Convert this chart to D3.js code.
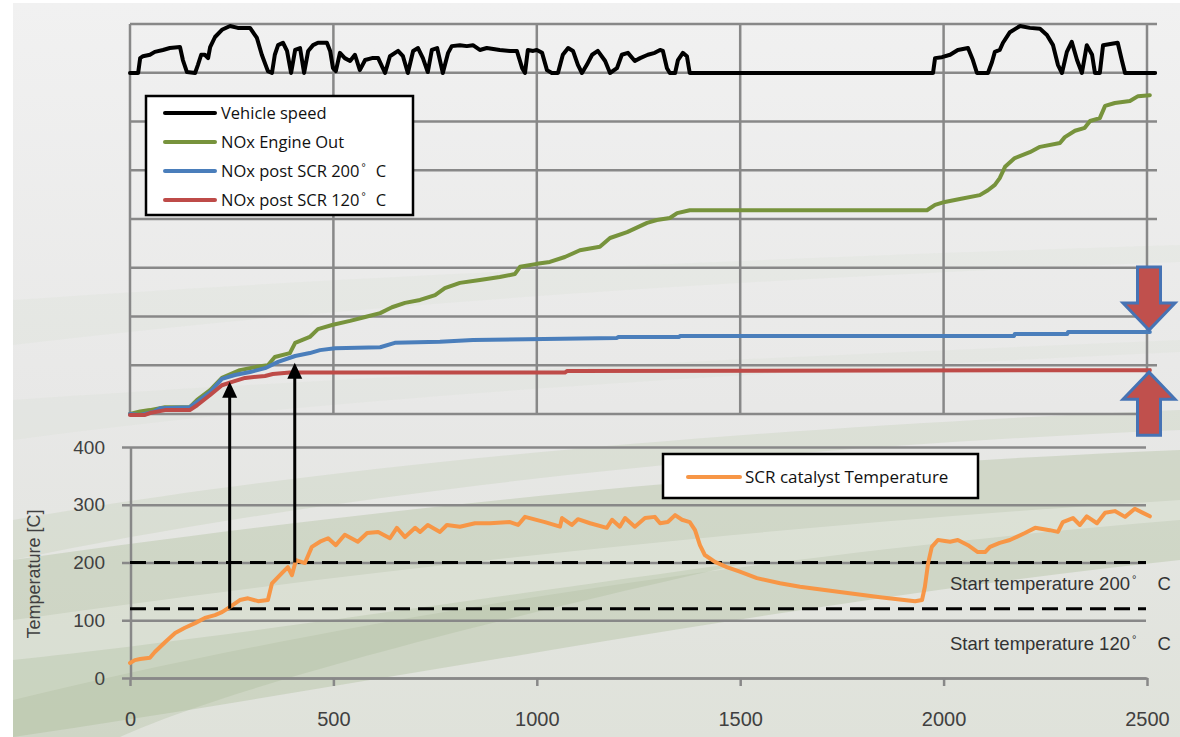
<!DOCTYPE html>
<html lang="en">
<head>
<meta charset="UTF-8">
<title>NOx post SCR and catalyst temperature</title>
<script src="https://cdn.jsdelivr.net/npm/d3@7"></script>
<style>
  body { margin: 0; background: #fff; }
  svg { display: block; }
</style>
</head>
<body>
<svg id="chart" width="1180" height="737"></svg>
<script>
// vehicle speed, [time s, km/h]
const speed = [
  [0,0],[20,0],[25,31],[32,35],[49,38],[61,44],[81,48],[98,52],[123,54],[130,27],[140,2],[160,0],
  [167,17],[175,38],[184,38],[192,31],[197,54],[209,75],[226,90],[246,98],[265,94],[283,94],[295,94],
  [312,73],[324,38],[339,4],[349,0],[356,38],[364,58],[376,63],[386,46],[396,0],[406,48],[418,52],
  [428,0],[438,46],[450,58],[462,63],[484,63],[492,46],[499,10],[506,4],[516,42],[528,31],[541,25],
  [553,38],[565,6],[578,27],[595,31],[610,31],[627,0],[639,35],[659,46],[671,35],[683,0],[696,46],
  [708,52],[720,31],[732,2],[742,48],[755,52],[769,0],[782,42],[791,56],[811,58],[828,56],[843,58],
  [860,48],[877,52],[909,48],[934,46],[951,46],[964,10],[971,0],[978,48],[991,46],[1000,48],[1013,42],
  [1025,6],[1037,0],[1052,0],[1064,38],[1077,52],[1089,46],[1101,17],[1111,0],[1123,17],[1136,38],
  [1150,46],[1168,25],[1180,0],[1197,10],[1209,38],[1224,42],[1241,25],[1254,31],[1273,38],[1290,42],
  [1303,48],[1310,46],[1320,10],[1327,0],[1340,0],[1347,27],[1359,42],[1369,35],[1376,0],[1974,0],
  [1979,31],[1996,33],[2016,38],[2035,48],[2060,52],[2072,27],[2082,0],[2109,0],[2119,23],[2126,44],
  [2138,48],[2146,63],[2163,85],[2188,98],[2212,94],[2237,92],[2254,79],[2269,58],[2281,17],[2291,0],
  [2303,44],[2315,65],[2328,27],[2340,0],[2352,58],[2365,38],[2372,0],[2384,0],[2392,58],[2428,63],
  [2438,27],[2446,0],[2520,0]
];

// cumulative NOx, [time s, grid units]
const noxEngineOut = [
  [0,0],[25,0.05],[49,0.08],[86,0.14],[147,0.14],[165,0.29],[197,0.49],[226,0.74],[270,0.9],[320,0.98],
  [339,1.0],[356,1.17],[393,1.25],[406,1.46],[442,1.58],[462,1.74],[499,1.83],[541,1.91],[578,1.99],
  [615,2.07],[644,2.19],[676,2.28],[713,2.34],[750,2.44],[774,2.58],[811,2.69],[860,2.75],[909,2.81],
  [946,2.87],[959,3.02],[1000,3.08],[1032,3.12],[1069,3.22],[1106,3.36],[1155,3.43],[1180,3.61],
  [1222,3.73],[1271,3.92],[1295,3.98],[1327,4.02],[1345,4.12],[1376,4.18],[1959,4.18],[1979,4.29],
  [2003,4.35],[2040,4.41],[2089,4.49],[2109,4.59],[2126,4.7],[2138,4.84],[2151,5.07],[2175,5.25],
  [2212,5.37],[2237,5.48],[2286,5.56],[2298,5.68],[2323,5.81],[2347,5.87],[2360,6.01],[2384,6.07],
  [2397,6.32],[2421,6.38],[2458,6.42],[2478,6.52],[2507,6.54]
];
const noxPost200 = [
  [0,0],[25,-0.02],[57,0.04],[74,0.12],[147,0.14],[165,0.25],[197,0.45],[226,0.72],[258,0.8],[295,0.86],
  [332,0.94],[364,1.07],[406,1.19],[442,1.25],[467,1.31],[504,1.35],[615,1.37],[651,1.46],[762,1.48],
  [843,1.52],[1197,1.56],[1200,1.58],[1350,1.58],[1352,1.6],[2173,1.6],[2175,1.64],[2304,1.64],
  [2306,1.68],[2507,1.68]
];
const noxPost120 = [
  [0,-0.02],[37,-0.02],[49,0.02],[86,0.08],[147,0.08],[165,0.18],[197,0.39],[226,0.59],[251,0.66],
  [283,0.74],[332,0.78],[351,0.82],[393,0.85],[1069,0.85],[1074,0.88],[2507,0.9]
];

// SCR catalyst temperature, [time s, deg C]
const scrTemp = [
  [0,26],[12,31],[25,33],[49,35],[61,45],[86,62],[111,78],[135,87],[160,95],[184,104],[209,109],
  [226,114],[246,123],[270,135],[290,138],[315,133],[339,135],[349,164],[374,182],[388,192],[398,178],
  [408,204],[430,199],[447,227],[467,236],[487,242],[506,230],[528,248],[560,236],[583,251],[610,253],
  [639,242],[656,260],[676,244],[701,260],[713,253],[732,265],[762,253],[779,265],[811,262],[848,268],
  [885,268],[934,270],[954,265],[971,279],[1020,270],[1057,262],[1062,277],[1086,265],[1101,275],
  [1131,268],[1172,260],[1185,274],[1204,262],[1217,277],[1241,262],[1266,277],[1290,279],[1303,268],
  [1322,270],[1340,282],[1357,274],[1376,270],[1389,256],[1401,230],[1413,213],[1438,201],[1467,192],
  [1499,184],[1541,173],[1598,164],[1647,158],[1745,149],[1844,140],[1930,133],[1947,135],[1954,158],
  [1962,199],[1971,227],[1986,239],[2016,236],[2035,239],[2060,230],[2084,218],[2102,218],[2114,227],
  [2138,234],[2163,239],[2200,251],[2225,260],[2261,256],[2281,253],[2293,270],[2318,277],[2335,265],
  [2352,280],[2377,268],[2397,286],[2421,289],[2446,279],[2470,293],[2490,286],[2507,280]
];

const timeTicks = [0, 500, 1000, 1500, 2000, 2500];
const tempTicks = [0, 100, 200, 300, 400];
const noxGrid = [0, 1, 2, 3, 4, 5, 6, 7, 8];
const startTemps = [200, 120];
const startNames = ["Start temperature 200", "Start temperature 120"];
const legendNames = ["Vehicle speed", "NOx Engine Out", "NOx post SCR 200", "NOx post SCR 120"];
const legendDeg = [false, false, true, true];
const tempName = "SCR catalyst Temperature";
// black arrows: time, start temperature, NOx level reached
const arrowTime = [245, 405];
const arrowTemp = [120, 200];
const arrowNox = [0.66, 1.05];

const W = 1180, H = 737;
const colors = { speed: "#000000", eo: "#77933c", p200: "#4a7ebb", p120: "#be4b48", temp: "#f79646" };
const gridColor = "#888888";

const svg = d3.select("#chart");

const x = d3.scaleLinear().domain([0, 2500]).range([130, 1147]);
const noxY = d3.scaleLinear().domain([0, 8]).range([414, 24]);
const speedY = d3.scaleLinear().domain([0, 100]).range([73, 25]);
const tempY = d3.scaleLinear().domain([0, 400]).range([678, 447]);

// background
const defs = svg.append("defs");
const bg = defs.append("linearGradient").attr("id", "bg").attr("x1", 0).attr("y1", 0).attr("x2", 0).attr("y2", 1);
bg.append("stop").attr("offset", 0).attr("stop-color", "#f1f1f1");
bg.append("stop").attr("offset", 0.55).attr("stop-color", "#e8e8e7");
bg.append("stop").attr("offset", 1).attr("stop-color", "#dfe2da");
svg.append("rect").attr("x", 13).attr("y", 3).attr("width", W - 13).attr("height", H - 3).attr("fill", "url(#bg)");

const swooshes = [
  ["M13,737 L13,560 C300,520 700,470 1180,450 L1180,560 C800,600 400,680 13,737 Z", "#a9bb95", 0.35],
  ["M13,700 L13,620 C300,580 700,530 1180,500 L1180,520 C700,560 300,630 13,700 Z", "#ffffff", 0.25],
  ["M13,520 C300,470 700,430 1180,410 L1180,430 C700,450 300,500 13,560 Z", "#b9c8a6", 0.25],
  ["M13,737 L13,660 C200,640 400,610 760,560 C400,640 200,700 120,737 Z", "#9fb38a", 0.25],
  ["M13,300 C300,280 700,260 1180,245 L1180,262 C700,280 300,310 13,345 Z", "#c9d3bd", 0.12],
  ["M13,400 C300,380 700,360 1180,340 L1180,352 C700,375 300,400 13,440 Z", "#c9d3bd", 0.12]
];
svg.append("g").selectAll("path").data(swooshes).join("path")
  .attr("d", d => d[0]).attr("fill", d => d[1]).attr("opacity", d => d[2]);

// upper panel grid
const upper = svg.append("g").attr("stroke", gridColor).attr("stroke-width", 2.5);
upper.selectAll("line.h").data(noxGrid).join("line").attr("class", "h")
  .attr("x1", x(0)).attr("x2", x(2500) + 10)
  .attr("y1", d => noxY(d)).attr("y2", d => noxY(d));
upper.selectAll("line.v").data(timeTicks).join("line").attr("class", "v")
  .attr("x1", d => x(d)).attr("x2", d => x(d))
  .attr("y1", noxY(0)).attr("y2", noxY(8));

// lower panel axes
const yAxis = d3.axisLeft(tempY).tickValues(tempTicks)
  .tickSize(-(x(2500) - 1 - 122)).tickPadding(17);
svg.append("g").attr("transform", "translate(122,0)").call(yAxis)
  .attr("font-family", "'Liberation Sans', Arial, sans-serif").attr("font-size", 19)
  .call(g => g.select(".domain").remove())
  .call(g => g.selectAll("line").attr("stroke", gridColor).attr("stroke-width", 2.5))
  .call(g => g.selectAll("text").attr("fill", "#404040"));

svg.append("line")
  .attr("x1", x(0) + 1).attr("x2", x(0) + 1)
  .attr("y1", tempY(400)).attr("y2", tempY(0))
  .attr("stroke", gridColor).attr("stroke-width", 2.5);

const xAxis = d3.axisBottom(x).tickValues(timeTicks).tickFormat(d3.format("d"))
  .tickSizeInner(8).tickSizeOuter(0).tickPadding(26);
svg.append("g").attr("transform", `translate(0,${tempY(0)})`).call(xAxis)
  .attr("font-family", "'Liberation Sans', Arial, sans-serif").attr("font-size", 20)
  .call(g => g.select(".domain").attr("stroke", gridColor).attr("stroke-width", 2.5))
  .call(g => g.selectAll("line").attr("stroke", gridColor).attr("stroke-width", 2.5))
  .call(g => g.selectAll("text").attr("fill", "#404040"));

svg.append("text")
  .attr("transform", `translate(40,${tempY(180)}) rotate(-90)`)
  .attr("text-anchor", "middle")
  .attr("font-family", "'Liberation Sans', Arial, sans-serif").attr("font-size", 18)
  .attr("fill", "#404040")
  .text("Temperature [C]");

// start temperature lines
svg.append("g").selectAll("line").data(startTemps).join("line")
  .attr("x1", x(0)).attr("x2", x(2500) - 1)
  .attr("y1", d => tempY(d)).attr("y2", d => tempY(d))
  .attr("stroke", "#000").attr("stroke-width", 3).attr("stroke-dasharray", "16 8");

function degText(sel, base, deg, size, gap) {
  sel.text(base);
  if (!deg) return;
  sel.append("tspan").attr("font-size", size * 0.6).attr("dy", -size * 0.35).attr("dx", 2).text("°");
  sel.append("tspan").attr("dy", size * 0.35).attr("dx", gap).text("C");
}

const startOffset = [27, 41];
svg.append("g").selectAll("text").data(startNames).join("text")
  .attr("x", x(2500) - 197)
  .attr("y", (d, i) => tempY(startTemps[i]) + startOffset[i])
  .attr("font-family", "'Liberation Sans', Arial, sans-serif").attr("font-size", 18.5)
  .attr("fill", "#333")
  .each(function (d) { degText(d3.select(this), d, true, 18.5, 21); });

// series
const line = ys => d3.line().x(d => x(d[0])).y(d => ys(d[1]));
const series = [
  [speed, speedY, colors.speed, 4],
  [noxEngineOut, noxY, colors.eo, 4],
  [noxPost200, noxY, colors.p200, 4],
  [noxPost120, noxY, colors.p120, 4],
  [scrTemp, tempY, colors.temp, 4]
];
svg.append("g").selectAll("path").data(series).join("path")
  .attr("d", d => line(d[1])(d[0]))
  .attr("fill", "none").attr("stroke", d => d[2]).attr("stroke-width", d => d[3])
  .attr("stroke-linejoin", "round").attr("stroke-linecap", "round");

// black arrows from start temperature to NOx curves
const arrows = svg.append("g");
arrowTime.forEach((t, i) => {
  const ax = x(t), y0 = tempY(arrowTemp[i]), y1 = noxY(arrowNox[i]);
  arrows.append("line").attr("x1", ax).attr("x2", ax).attr("y1", y0).attr("y2", y1 + 12)
    .attr("stroke", "#000").attr("stroke-width", 3);
  arrows.append("path").attr("d", `M${ax},${y1} L${ax - 7.5},${y1 + 16} L${ax + 7.5},${y1 + 16} Z`).attr("fill", "#000");
});

// block arrows at the right end
const lastBlue = noxPost200[noxPost200.length - 1][1];
const lastRed = noxPost120[noxPost120.length - 1][1];
const bx = x(2500) + 2;
function blockArrow(tipY, dir) {
  // dir = 1 pointing down, -1 pointing up
  const hh = 27, sl = 36, hw = 26, sw = 11.5;
  const b = tipY - dir * hh, e = b - dir * sl;
  const p = [[bx, tipY], [bx + hw, b], [bx + sw, b], [bx + sw, e], [bx - sw, e], [bx - sw, b], [bx - hw, b]];
  svg.append("path").attr("d", "M" + p.join("L") + "Z")
    .attr("fill", "#c0504d").attr("stroke", "#4673b4").attr("stroke-width", 3).attr("stroke-linejoin", "miter");
}
blockArrow(noxY(lastBlue) - 2, 1);
blockArrow(noxY(lastRed) + 2, -1);

// upper legend
const leg = svg.append("g");
leg.append("rect").attr("x", 146).attr("y", 96).attr("width", 267).attr("height", 119)
  .attr("fill", "#fff").attr("stroke", "#000").attr("stroke-width", 2.5);
const legColors = [colors.speed, colors.eo, colors.p200, colors.p120];
legendNames.forEach((name, i) => {
  const ly = 113 + i * 29;
  leg.append("line").attr("x1", 165).attr("x2", 215).attr("y1", ly).attr("y2", ly)
    .attr("stroke", legColors[i]).attr("stroke-width", 4).attr("stroke-linecap", "round");
  leg.append("text").attr("x", 221).attr("y", ly + 6)
    .attr("font-family", "'Open Sans', sans-serif").attr("font-size", 16.5).attr("fill", "#111")
    .call(s => degText(s, name, legendDeg[i], 16.5, 10));
});

// lower legend
const leg2 = svg.append("g");
leg2.append("rect").attr("x", 663).attr("y", 454).attr("width", 315).attr("height", 44)
  .attr("fill", "#fff").attr("stroke", "#000").attr("stroke-width", 2.5);
leg2.append("line").attr("x1", 688).attr("x2", 740).attr("y1", 477).attr("y2", 477)
  .attr("stroke", colors.temp).attr("stroke-width", 4).attr("stroke-linecap", "round");
leg2.append("text").attr("x", 745).attr("y", 483)
  .attr("font-family", "'Open Sans', sans-serif").attr("font-size", 17).attr("fill", "#111")
  .text(tempName);
</script>
</body>
</html>
